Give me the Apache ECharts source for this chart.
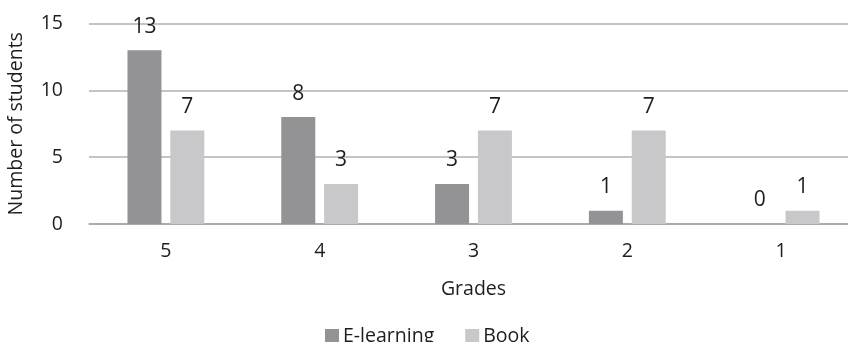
<!DOCTYPE html>
<html>
<head>
<meta charset="utf-8">
<script src="https://cdn.jsdelivr.net/npm/echarts@6/dist/echarts.min.js"></script>
<style>
  html, body { margin: 0; padding: 0; background: #ffffff; }
  #chart { width: 848px; height: 342px; }
</style>
</head>
<body>
<div id="chart"></div>
<script>
// Grades received by students, grouped by learning method
const grades = ['5', '4', '3', '2', '1'];
const eLearning = [13, 8, 3, 1, 0];
const book = [7, 3, 7, 7, 1];
const yTicks = { min: 0, max: 15, interval: 5 };

const FONT = '"Open Sans", "Noto Sans", sans-serif';
const TEXT = '#1f1c1d';

const valueLabel = {
  show: true,
  position: 'top',
  distance: 13,
  fontFamily: FONT,
  fontSize: 21,
  color: TEXT
};

const chart = echarts.init(document.getElementById('chart'), null, { renderer: 'canvas' });
chart.setOption({
  animation: false,
  backgroundColor: '#ffffff',
  grid: {
    left: 89, width: 769, top: 23.5, bottom: 118,
    containLabel: false,
    outerBoundsMode: 'none'
  },
  legend: {
    left: 320,
    top: 321,
    itemWidth: 14,
    itemHeight: 14,
    itemGap: 31,
    icon: 'rect',
    textStyle: { fontFamily: FONT, fontSize: 19.5, color: TEXT, padding: [0, 0, 0, -1] },
    data: ['E-learning', 'Book']
  },
  xAxis: {
    type: 'category',
    data: grades,
    name: 'Grades',
    nameLocation: 'middle',
    nameGap: 55,
    nameTextStyle: { fontFamily: FONT, fontSize: 19.5, color: TEXT },
    axisLine: { show: true, lineStyle: { color: '#a3a3a3', width: 1.5 } },
    axisTick: { show: false },
    axisLabel: { fontFamily: FONT, fontSize: 19.5, color: TEXT, margin: 17 },
    splitLine: { show: false }
  },
  yAxis: {
    type: 'value',
    min: yTicks.min,
    max: yTicks.max,
    interval: yTicks.interval,
    name: 'Number of students',
    nameLocation: 'middle',
    nameGap: 63,
    nameRotate: 90,
    nameTextStyle: { fontFamily: FONT, fontSize: 19.5, color: TEXT },
    axisLine: { show: false },
    axisTick: { show: false },
    axisLabel: { fontFamily: FONT, fontSize: 19.5, color: TEXT, margin: 26 },
    splitLine: { show: true, lineStyle: { color: '#b0b0b0', width: 1.5 } }
  },
  series: [
    {
      name: 'E-learning',
      type: 'bar',
      data: eLearning,
      barWidth: 34,
      barGap: '26%',
      itemStyle: { color: '#939396' },
      label: valueLabel
    },
    {
      name: 'Book',
      type: 'bar',
      data: book,
      barWidth: 34,
      itemStyle: { color: '#c8c8ca' },
      label: valueLabel
    }
  ]
});
</script>
</body>
</html>
